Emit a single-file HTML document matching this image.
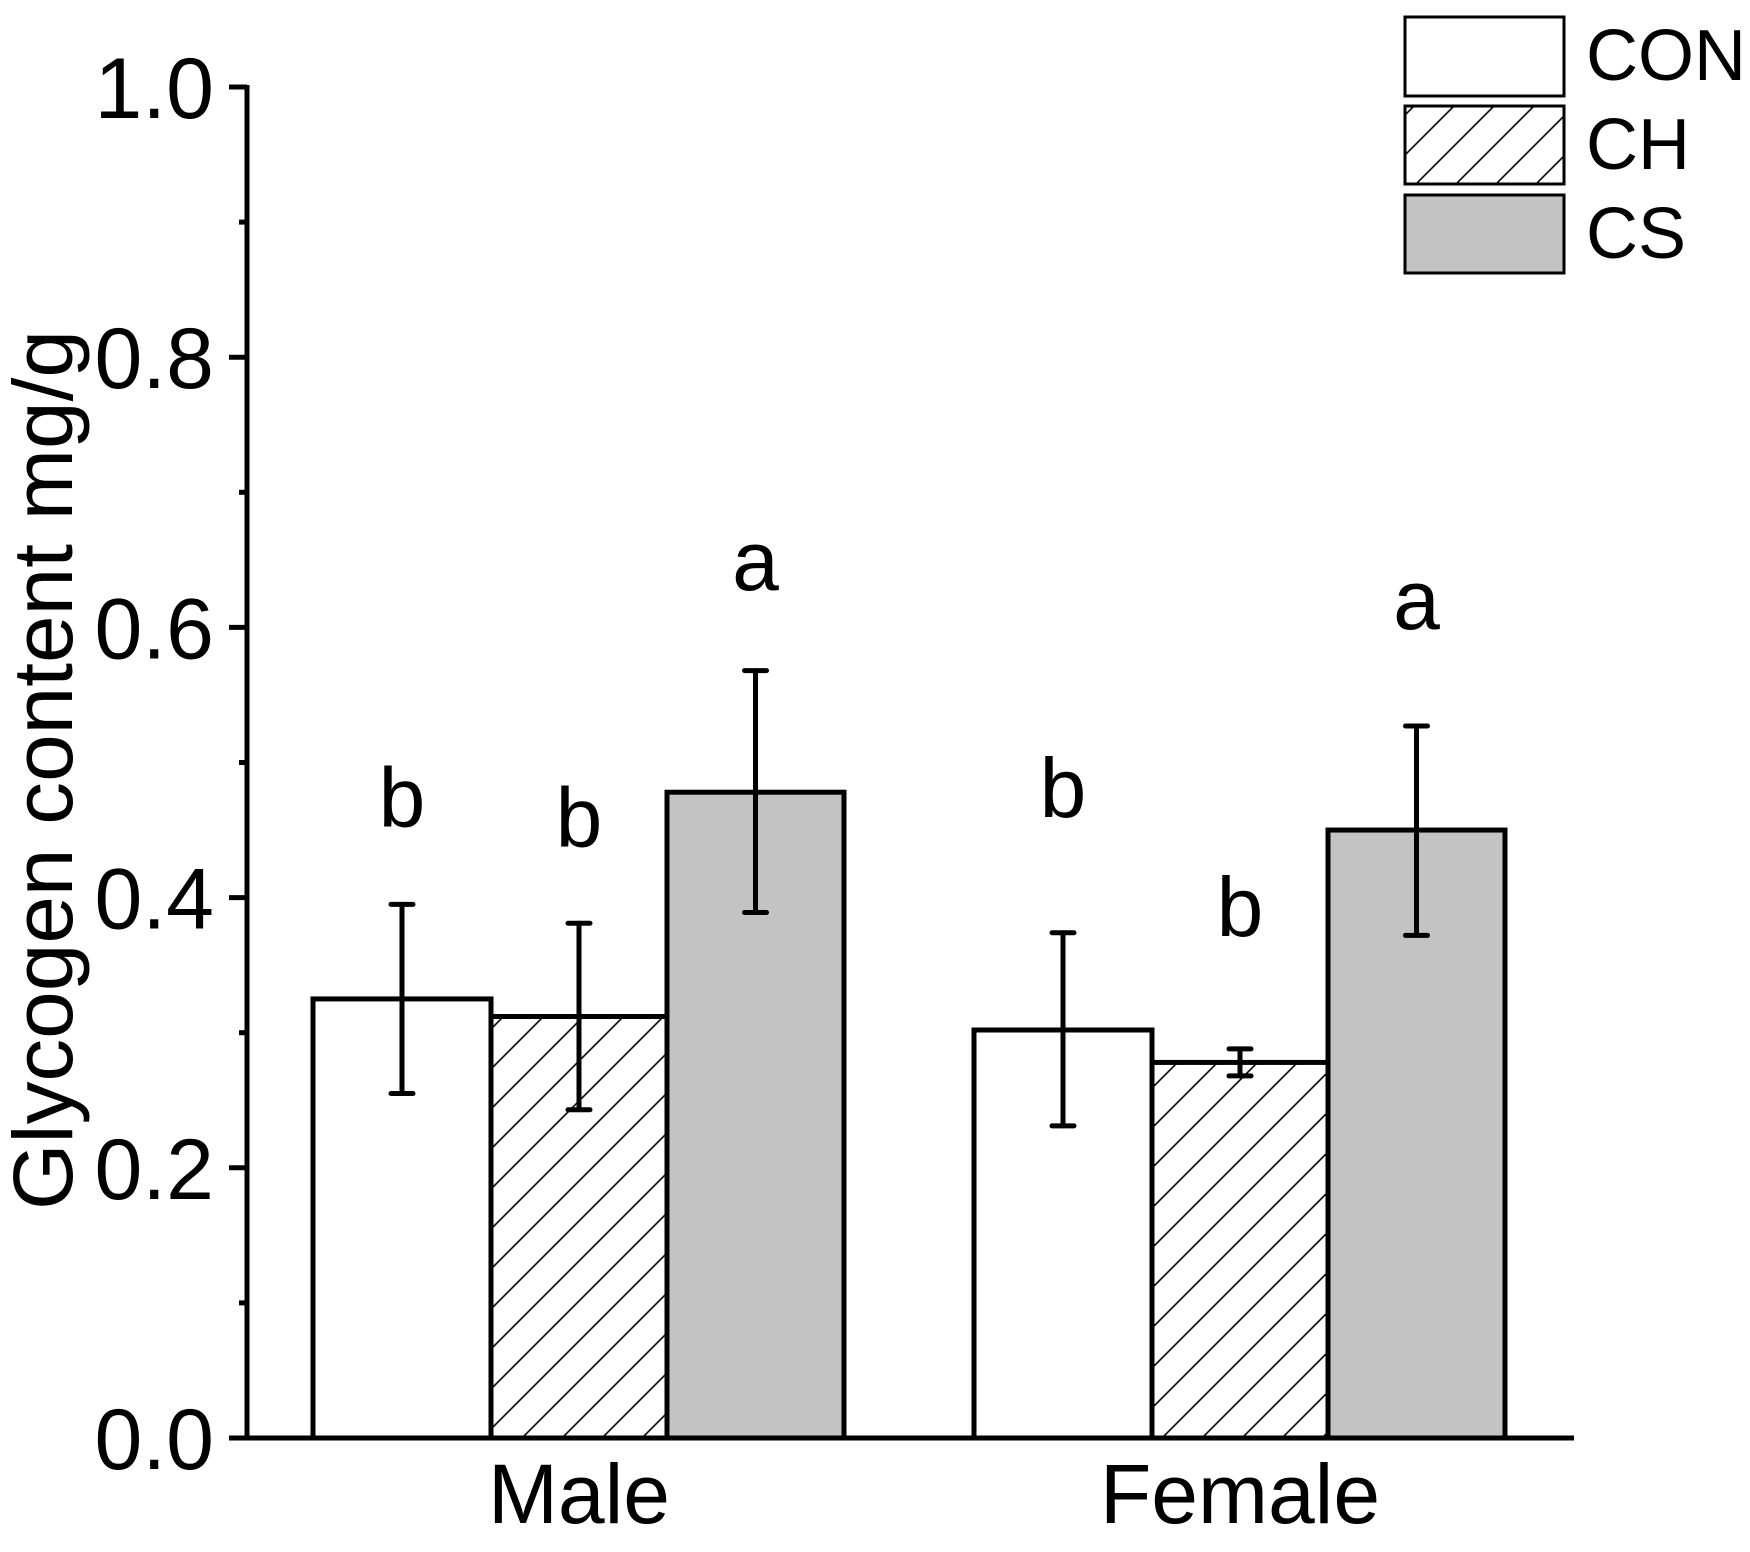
<!DOCTYPE html>
<html><head><meta charset="utf-8"><style>
html,body{margin:0;padding:0;background:#fff;}
svg{display:block;font-family:"Liberation Sans",Arial,sans-serif;}
</style></head><body>
<svg id="chart" width="1750" height="1552" viewBox="0 0 1750 1552" xmlns="http://www.w3.org/2000/svg">
<defs>
<pattern id="hatch" patternUnits="userSpaceOnUse" width="40" height="40">
<path d="M-10,10 L10,-10 M0,40 L40,0 M30,50 L50,30" stroke="#000" stroke-width="1.6"/>
</pattern>
</defs>
<rect width="1750" height="1552" fill="#fff"/>
<g id="plot"></g>
<text transform="translate(72,770) rotate(-90)" text-anchor="middle" font-size="84" textLength="880" lengthAdjust="spacingAndGlyphs">Glycogen content mg/g</text>
<g>
<rect x="1405" y="17" width="159" height="79" fill="#fff" stroke="#000" stroke-width="3"/>
<rect x="1405" y="106" width="159" height="78" fill="url(#hatch)" stroke="#000" stroke-width="3"/>
<rect x="1405" y="195" width="159" height="78" fill="#c3c3c3" stroke="#000" stroke-width="3"/>
<text x="1586" y="80" font-size="72">CON</text>
<text x="1586" y="169" font-size="72">CH</text>
<text x="1586" y="258" font-size="72">CS</text>
</g>
</svg>
<script>
const groups = ["Male", "Female"];
const series = ["CON", "CH", "CS"];
const valuesCON = [0.325, 0.302];
const valuesCH = [0.312, 0.278];
const valuesCS = [0.478, 0.450];
const errLowCON = [0.255, 0.231];
const errHighCON = [0.395, 0.374];
const errLowCH = [0.243, 0.268];
const errHighCH = [0.381, 0.288];
const errLowCS = [0.389, 0.372];
const errHighCS = [0.568, 0.527];
const lettersCON = ["b", "b"];
const lettersCH = ["b", "b"];
const lettersCS = ["a", "a"];
const letterPosCON = [0.469, 0.476];
const letterPosCH = [0.454, 0.388];
const letterPosCS = [0.644, 0.615];
const yTicks = [0, 0.2, 0.4, 0.6, 0.8, 1.0];
const yTickLabels = ["0.0", "0.2", "0.4", "0.6", "0.8", "1.0"];

const NS = "http://www.w3.org/2000/svg";
const plot = document.getElementById("plot");
const Y0 = 1438, Y1 = 87;
function yScale(v){ return Y0 - (Y0 - Y1) * v; }
const groupStart = [313, 974];
const barW = [178, 176, 177];
function barX(g, s){ let x = groupStart[g]; for (let i=0;i<s;i++) x += barW[i]; return x; }
function mk(tag, attrs){ const e = document.createElementNS(NS, tag); for (const k in attrs) e.setAttribute(k, attrs[k]); return e; }

const vals = [valuesCON, valuesCH, valuesCS];
const lo = [errLowCON, errLowCH, errLowCS];
const hi = [errHighCON, errHighCH, errHighCS];
const letters = [lettersCON, lettersCH, lettersCS];
const lpos = [letterPosCON, letterPosCH, letterPosCS];
const fills = ["#fff", "url(#hatch)", "#c3c3c3"];

for (let g = 0; g < groups.length; g++) {
  for (let s = 0; s < series.length; s++) {
    const x = barX(g, s), w = barW[s], y = yScale(vals[s][g]);
    const r = mk("rect", {x: x, y: y, width: w, height: Y0 - y, fill: fills[s], stroke: "#000", "stroke-width": 5});
    
    
    plot.appendChild(r);
  }
}
for (let g = 0; g < groups.length; g++) {
  for (let s = 0; s < series.length; s++) {
    const cx = barX(g, s) + barW[s] / 2;
    const eg = mk("g", {stroke: "#000", "stroke-width": 5, "stroke-linecap": "round"});
    
    
    const yl = yScale(lo[s][g]), yh = yScale(hi[s][g]);
    eg.appendChild(mk("line", {x1: cx, y1: yl, x2: cx, y2: yh}));
    eg.appendChild(mk("line", {x1: cx - 11, y1: yh, x2: cx + 11, y2: yh}));
    eg.appendChild(mk("line", {x1: cx - 11, y1: yl, x2: cx + 11, y2: yl}));
    plot.appendChild(eg);
    const t = mk("text", {x: cx, y: yScale(lpos[s][g]) + 22, "text-anchor": "middle", "font-size": 84});
    t.textContent = letters[s][g];
    
    
    plot.appendChild(t);
  }
}
const ax = mk("g", {stroke: "#000", "stroke-width": 5});


ax.appendChild(mk("line", {x1: 247, y1: Y1 - 2, x2: 247, y2: Y0 + 2}));
ax.appendChild(mk("line", {x1: 229, y1: Y0, x2: 1574, y2: Y0}));
for (let i = 0; i < 10; i++) {
  const v = i / 10 + 0.1; const y = yScale(v);
  const major = (i % 2 === 1);
  ax.appendChild(mk("line", {x1: major ? 229 : 239, y1: y, x2: 247, y2: y}));
}
plot.appendChild(ax);
for (let i = 0; i < yTicks.length; i++) {
  const t = mk("text", {x: 214, y: yScale(yTicks[i]) + 31, "text-anchor": "end", "font-size": 86});
  t.textContent = yTickLabels[i];
  
  
  plot.appendChild(t);
}
for (let g = 0; g < groups.length; g++) {
  const cx = barX(g, 1) + barW[1] / 2;
  const t = mk("text", {x: cx, y: 1523, "text-anchor": "middle", "font-size": 84});
  t.textContent = groups[g];
  
  
  plot.appendChild(t);
}
</script>
</body></html>
